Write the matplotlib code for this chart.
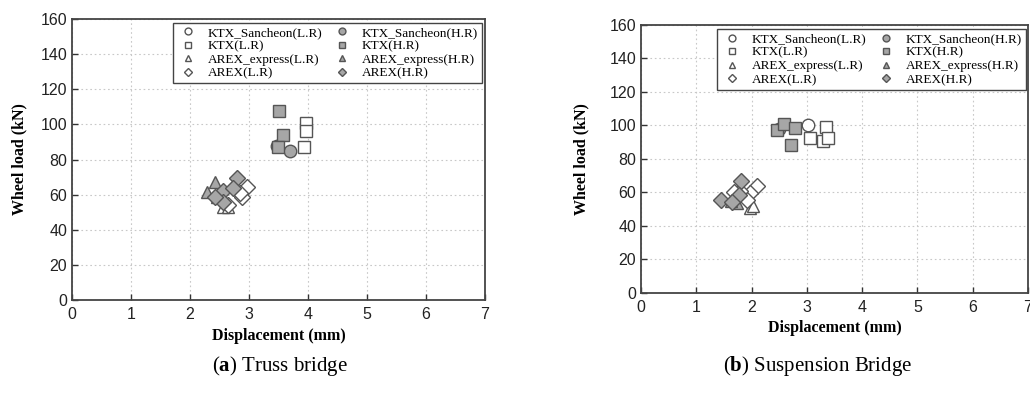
import matplotlib
matplotlib.use("Agg")
import matplotlib.pyplot as plt

plt.rcParams["font.family"] = ["Liberation Sans", "DejaVu Sans"]
plt.rcParams["mathtext.fontset"] = "custom"
plt.rcParams["mathtext.rm"] = "Liberation Serif"
plt.rcParams["mathtext.bf"] = "Liberation Serif:bold"

# (a) Truss bridge  -- displacement (mm), wheel load (kN)
truss_san_lr_x = [3.48]
truss_san_lr_y = [87.5]
truss_san_hr_x = [3.69]
truss_san_hr_y = [85.0]
truss_ktx_lr_x = [3.96, 3.97, 3.94]
truss_ktx_lr_y = [100.6, 96.2, 87.3]
truss_ktx_hr_x = [3.51, 3.57, 3.49]
truss_ktx_hr_y = [107.8, 94.0, 87.3]
truss_ae_lr_x = [2.56, 2.65]
truss_ae_lr_y = [53.1, 53.0]
truss_ae_hr_x = [2.42, 2.28, 2.45]
truss_ae_hr_y = [67.4, 61.7, 58.8]
truss_arex_lr_x = [2.96, 2.88, 2.65, 2.85]
truss_arex_lr_y = [64.5, 58.8, 54.3, 61.0]
truss_arex_hr_x = [2.79, 2.56, 2.73, 2.56, 2.42]
truss_arex_hr_y = [69.3, 62.3, 63.5, 55.6, 58.8]

# (b) Suspension bridge
susp_san_lr_x = [3.02]
susp_san_lr_y = [100.3]
susp_san_hr_x = [2.50]
susp_san_hr_y = [98.0]
susp_ktx_lr_x = [3.05, 3.35, 3.29, 3.39]
susp_ktx_lr_y = [92.7, 99.3, 90.7, 92.7]
susp_ktx_hr_x = [2.46, 2.59, 2.78, 2.71]
susp_ktx_hr_y = [97.3, 100.9, 98.3, 88.4]
susp_ae_lr_x = [1.98, 2.02]
susp_ae_lr_y = [50.6, 52.0]
susp_ae_hr_x = [1.74, 1.62]
susp_ae_hr_y = [53.5, 55.0]
susp_arex_lr_x = [2.10, 1.98, 1.92, 1.80, 1.68]
susp_arex_lr_y = [64.1, 59.9, 55.7, 61.0, 60.0]
susp_arex_hr_x = [1.45, 1.81, 1.77, 1.64]
susp_arex_hr_y = [55.5, 66.9, 58.5, 54.6]

labels_lr = ["KTX_Sancheon(L.R)", "KTX(L.R)", "AREX_express(L.R)", "AREX(L.R)"]
labels_hr = ["KTX_Sancheon(H.R)", "KTX(H.R)", "AREX_express(H.R)", "AREX(H.R)"]
markers = ["o", "s", "^", "D"]
sizes = [9, 8, 9, 8]
fill = "#a6a6a6"
edge = "#555555"

fig = plt.figure(figsize=(10.30, 3.96), dpi=100)
ax1 = fig.add_axes([0.0699, 0.2424, 0.401, 0.7096])
ax2 = fig.add_axes([0.6223, 0.2601, 0.3757, 0.6768])


def panel(ax, lr, hr, leg_anchor, xlab_y, ylab_x):
    handles = []
    for (x, y), m, s in zip(lr, markers, sizes):
        h, = ax.plot(x, y, ls="none", marker=m, ms=s, mfc="white", mec=edge,
                     mew=1.0, zorder=3)
        handles.append(h)
    for (x, y), m, s in zip(hr, markers, sizes):
        h, = ax.plot(x, y, ls="none", marker=m, ms=s, mfc=fill, mec=edge,
                     mew=1.0, zorder=4)
        handles.append(h)
    ax.set_xlim(0, 7)
    ax.set_ylim(0, 160)
    ax.set_xticks(range(0, 8))
    ax.set_yticks(range(0, 161, 20))
    ax.grid(True, ls=(0, (1.5, 2.5)), color="#c8c8c8", lw=0.8)
    ax.set_axisbelow(True)
    ax.tick_params(direction="in", length=4, width=1, colors="#333333",
                   labelsize=11.5, labelcolor="#222222")
    ax.tick_params(axis="x", pad=5)
    for sp in ax.spines.values():
        sp.set_color("#444444")
        sp.set_linewidth(1.3)
    ax.set_xlabel("Displacement (mm)", family="Liberation Serif",
                  fontweight="bold", fontsize=11.5)
    ax.set_ylabel("Wheel load (kN)", family="Liberation Serif",
                  fontweight="bold", fontsize=11.5)
    ax.xaxis.set_label_coords(0.5, xlab_y)
    ax.yaxis.set_label_coords(ylab_x, 0.5)
    leg = ax.legend(handles, labels_lr + labels_hr, ncol=2, loc="upper right",
                    bbox_to_anchor=leg_anchor, borderaxespad=0,
                    markerscale=0.55, fancybox=False, framealpha=1,
                    edgecolor="#444444", prop={"family": "Liberation Serif",
                                               "size": 9.5},
                    labelspacing=0.1, columnspacing=0.7, handletextpad=0.7,
                    borderpad=0.3, handlelength=1.6)
    leg.get_frame().set_linewidth(1.0)
    leg.set_zorder(5)


panel(ax1,
      [(truss_san_lr_x, truss_san_lr_y), (truss_ktx_lr_x, truss_ktx_lr_y),
       (truss_ae_lr_x, truss_ae_lr_y), (truss_arex_lr_x, truss_arex_lr_y)],
      [(truss_san_hr_x, truss_san_hr_y), (truss_ktx_hr_x, truss_ktx_hr_y),
       (truss_ae_hr_x, truss_ae_hr_y), (truss_arex_hr_x, truss_arex_hr_y)],
      (0.993, 0.987), -0.10, -0.107)
panel(ax2,
      [(susp_san_lr_x, susp_san_lr_y), (susp_ktx_lr_x, susp_ktx_lr_y),
       (susp_ae_lr_x, susp_ae_lr_y), (susp_arex_lr_x, susp_arex_lr_y)],
      [(susp_san_hr_x, susp_san_hr_y), (susp_ktx_hr_x, susp_ktx_hr_y),
       (susp_ae_hr_x, susp_ae_hr_y), (susp_arex_hr_x, susp_arex_hr_y)],
      (0.995, 0.985), -0.10, -0.132)

fig.text(0.272, 0.075, r"($\mathbf{a}$) Truss bridge", ha="center",
         va="center", family="Liberation Serif", fontsize=15)
fig.text(0.794, 0.075, r"($\mathbf{b}$) Suspension Bridge", ha="center",
         va="center", family="Liberation Serif", fontsize=15)

fig.savefig("out.png", dpi=100)
